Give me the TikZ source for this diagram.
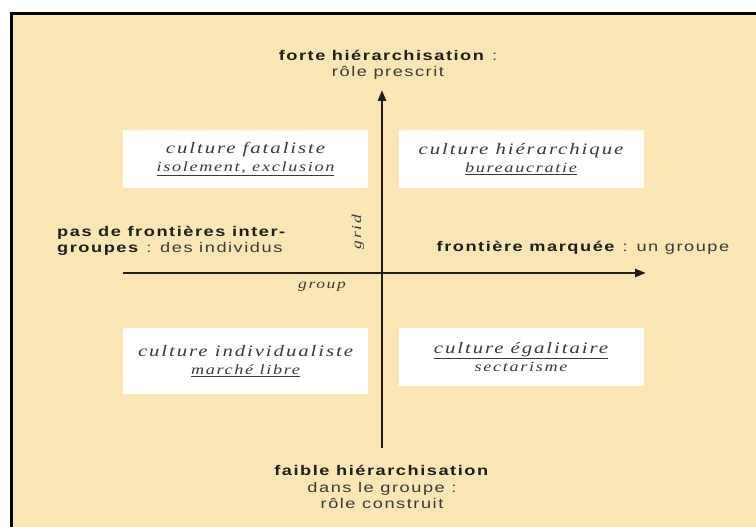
\documentclass[tikz,border=0pt]{standalone}
\usepackage{fontspec}
\setmainfont{Liberation Serif}
\setsansfont{Liberation Sans}
\newfontfamily\polefont[FakeStretch=1.3, LetterSpace=11]{Liberation Sans}
\newfontfamily\cultfont[FakeStretch=1.3, LetterSpace=12]{Liberation Serif}
\usepackage{tikz}
\usetikzlibrary{arrows.meta}
\definecolor{sand}{HTML}{fce6b4}
\definecolor{ink}{HTML}{1e1e1e}
\definecolor{softink}{HTML}{3a3a3a}

\begin{document}
\begin{tikzpicture}[x=1pt, y=-1pt,
  quadrant/.style={fill=white, minimum width=245pt, minimum height=58pt, align=center, inner sep=0pt, text=softink, font=\cultfont\itshape\fontsize{16}{17.5}\selectfont},
  pole/.style={align=center, text=ink, font=\polefont\fontsize{14}{16.5}\selectfont},
  axis/.style={line width=2.6pt, color=ink, -{Triangle[length=11pt,width=8pt]}},
  axlab/.style={text=softink, font=\cultfont\itshape\fontsize{13.5}{15}\selectfont},
]
\useasboundingbox (0,0) rectangle (756,527);
\clip (0,0) rectangle (756,527);
\fill[sand] (11,14) rectangle (760,531);
\draw[line width=3pt] (11,531) -- (11,14) -- (760,14);

\node[quadrant] (fatal) at (245.5,159) {culture fataliste\\{\fontsize{14}{17.5}\selectfont\underline{isolement, exclusion}}};
\node[quadrant] (hier) at (521,159) {culture hiérarchique\\{\fontsize{14}{17.5}\selectfont\underline{bureaucratie}}};
\node[quadrant, minimum height=66pt] (indiv) at (245.5,361) {culture individualiste\\{\fontsize{14}{17.5}\selectfont\underline{marché libre}}};
\node[quadrant] (egal) at (521,357) {\underline{culture égalitaire}\\{\fontsize{14}{17.5}\selectfont sectarisme}};

\node[pole] (high) at (388,65) {\textbf{forte hiérarchisation} {\color{softink}:}\\{\color{softink}rôle prescrit}};
\node[pole] (low) at (382,487) {\textbf{faible hiérarchisation}\\{\color{softink}dans le groupe :}\\{\color{softink}rôle construit}};
\node[pole, align=left] (nobound) at (172,241) {\textbf{pas de frontières inter-}\\\textbf{groupes} {\color{softink}: des individus}};
\node[pole] (bound) at (583,248) {\textbf{frontière marquée} {\color{softink}: un groupe}};

\coordinate (gridlow) at (382,448);
\coordinate (gridhigh) at (382,90);
\coordinate (groupleft) at (123,273);
\coordinate (groupright) at (646,273);
\draw[axis] (gridlow) -- (gridhigh);
\draw[axis] (groupleft) -- (groupright);

\node[axlab, rotate=90] (gridlab) at (358,232) {grid};
\node[axlab] (grouplab) at (322,287) {group};
\end{tikzpicture}
\end{document}
